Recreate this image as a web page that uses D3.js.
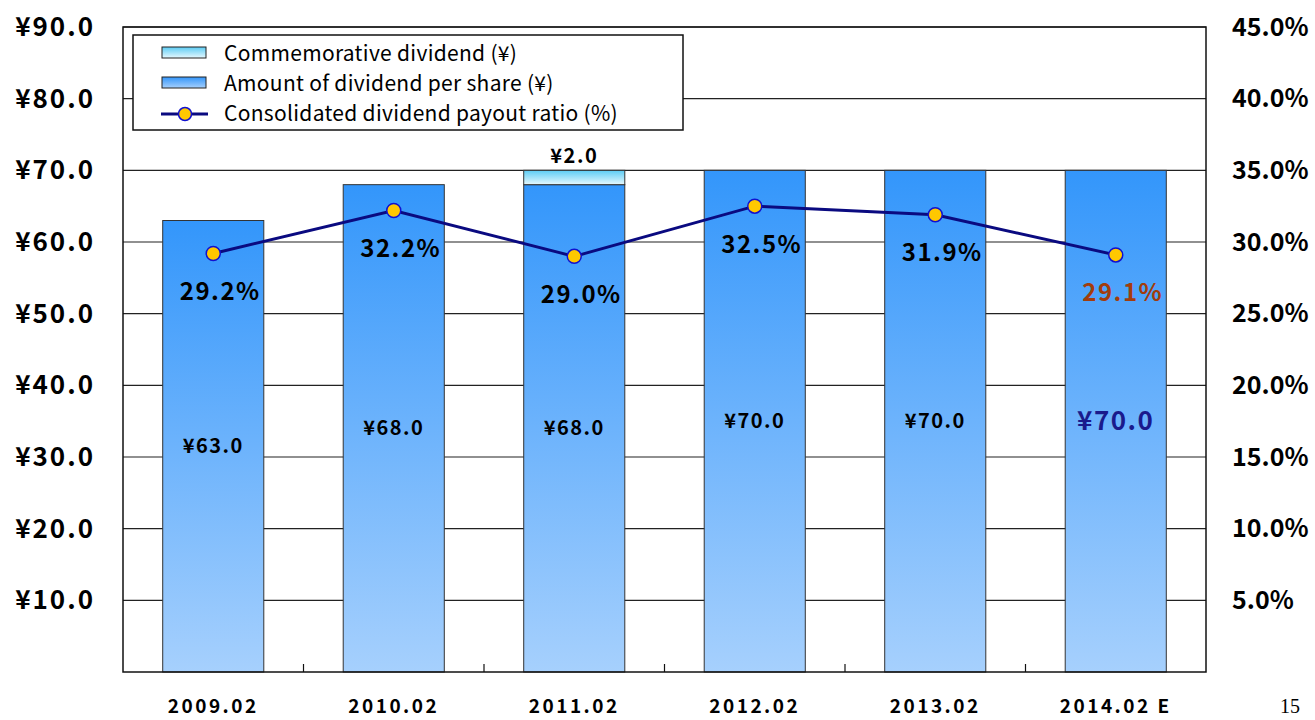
<!DOCTYPE html>
<html>
<head>
<meta charset="utf-8">
<script src="https://cdn.jsdelivr.net/npm/d3@7"></script>
<style>
  body { margin: 0; background: #fff; }
  text { font-family: "Noto Sans CJK JP", "DejaVu Sans", sans-serif; }
</style>
</head>
<body>
<svg id="chart" width="1315" height="720"></svg>
<script>
// datos del gráfico
const categories = ["2009.02", "2010.02", "2011.02", "2012.02", "2013.02", "2014.02 E"];
const dividendPerShare = [63.0, 68.0, 68.0, 70.0, 70.0, 70.0];
const commemorative = [0, 0, 2.0, 0, 0, 0];
const payoutRatio = [29.2, 32.2, 29.0, 32.5, 31.9, 29.1];
const yenTicks = [10, 20, 30, 40, 50, 60, 70, 80, 90];
const pctTicks = [5, 10, 15, 20, 25, 30, 35, 40, 45];
const legendLabels = ["Commemorative dividend (¥)", "Amount of dividend per share (¥)", "Consolidated dividend payout ratio (%)"];

const svg = d3.select("#chart");
const m = { left: 123, right: 1206, top: 27, bottom: 672 };

const x = d3.scaleBand().domain(categories).range([m.left, m.right]).paddingInner(0.44).paddingOuter(0.22);
const y = d3.scaleLinear().domain([0, 90]).range([m.bottom, m.top]);
const y2 = d3.scaleLinear().domain([0, 45]).range([m.bottom, m.top]);

// gradientes
const defs = svg.append("defs");
const g1 = defs.append("linearGradient").attr("id", "gBlue").attr("x1", 0).attr("y1", 0).attr("x2", 0).attr("y2", 1);
g1.append("stop").attr("offset", "0%").attr("stop-color", "#3396fb");
g1.append("stop").attr("offset", "100%").attr("stop-color", "#a6d0fd");
const g2 = defs.append("linearGradient").attr("id", "gCyan").attr("x1", 0).attr("y1", 0).attr("x2", 0).attr("y2", 1);
g2.append("stop").attr("offset", "0%").attr("stop-color", "#5cccf4");
g2.append("stop").attr("offset", "100%").attr("stop-color", "#e6f8fe");

// líneas de cuadrícula
svg.append("g").selectAll("line").data(yenTicks).enter().append("line")
   .attr("x1", m.left).attr("x2", m.right)
   .attr("y1", d => y(d)).attr("y2", d => y(d))
   .attr("stroke", "#222").attr("stroke-width", 1.2);

// barras
svg.append("g").selectAll("rect").data(dividendPerShare).enter().append("rect")
   .attr("x", (d, i) => x(categories[i]))
   .attr("y", d => y(d))
   .attr("width", x.bandwidth())
   .attr("height", d => y(0) - y(d))
   .attr("fill", "url(#gBlue)")
   .attr("stroke", "#333").attr("stroke-width", 1);

svg.append("g").selectAll("rect").data(commemorative).enter()
   .filter(d => d > 0).append("rect")
   .attr("x", d => x(categories[commemorative.indexOf(d)]))
   .attr("y", d => y(dividendPerShare[commemorative.indexOf(d)] + d))
   .attr("width", x.bandwidth())
   .attr("height", d => y(0) - y(d))
   .attr("fill", "url(#gCyan)")
   .attr("stroke", "#333").attr("stroke-width", 1);

// etiquetas de valores
svg.append("g").selectAll("text").data(dividendPerShare).enter().append("text")
   .attr("x", (d, i) => x(categories[i]) + x.bandwidth() / 2)
   .attr("y", d => y(d / 2))
   .attr("dy", "0.35em")
   .attr("text-anchor", "middle")
   .attr("font-weight", "bold")
   .attr("font-size", (d, i) => i === 5 ? "26px" : "20px")
   .attr("letter-spacing", "1.5px")
   .attr("fill", (d, i) => i === 5 ? "#1a1a8c" : "#000")
   .text(d => "¥" + d.toFixed(1));

commemorative.forEach((d, i) => {
  if (d > 0) {
    svg.append("text")
       .attr("x", x(categories[i]) + x.bandwidth() / 2)
       .attr("y", y(dividendPerShare[i] + d) - 7)
       .attr("text-anchor", "middle")
       .attr("font-weight", "bold").attr("font-size", "20px")
       .attr("letter-spacing", "1.5px")
       .text("¥" + d.toFixed(1));
  }
});

// marco del área
svg.append("rect")
   .attr("x", m.left).attr("y", m.top)
   .attr("width", m.right - m.left).attr("height", m.bottom - m.top)
   .attr("fill", "none").attr("stroke", "#111").attr("stroke-width", 1.5);

// marcas del eje x
svg.append("g").selectAll("line").data(categories.slice(1)).enter().append("line")
   .attr("x1", d => x(d) - x.step() * x.paddingInner() / 2)
   .attr("x2", d => x(d) - x.step() * x.paddingInner() / 2)
   .attr("y1", m.bottom).attr("y2", m.bottom - 8)
   .attr("stroke", "#111").attr("stroke-width", 1.2);

// línea del ratio
const line = d3.line()
   .x((d, i) => x(categories[i]) + x.bandwidth() / 2)
   .y(d => y2(d));
svg.append("path").datum(payoutRatio)
   .attr("d", line).attr("fill", "none")
   .attr("stroke", "#0a0a80").attr("stroke-width", 3);

svg.append("g").selectAll("circle").data(payoutRatio).enter().append("circle")
   .attr("cx", (d, i) => x(categories[i]) + x.bandwidth() / 2)
   .attr("cy", d => y2(d))
   .attr("r", 7)
   .attr("fill", "#ffc800").attr("stroke", "#1010d0").attr("stroke-width", 1.5);

svg.append("g").selectAll("text").data(payoutRatio).enter().append("text")
   .attr("x", (d, i) => x(categories[i]) + x.bandwidth() / 2 + 7)
   .attr("y", d => y2(d) + 38)
   .attr("dy", "0.35em")
   .attr("text-anchor", "middle")
   .attr("font-weight", "bold").attr("font-size", "24px")
   .attr("letter-spacing", "1.5px")
   .attr("fill", (d, i) => i === 5 ? "#a33c0c" : "#000")
   .text(d => d.toFixed(1) + "%");

// ejes
svg.append("g").selectAll("text").data(yenTicks).enter().append("text")
   .attr("x", 95).attr("y", d => y(d))
   .attr("dy", "0.35em").attr("text-anchor", "end")
   .attr("font-weight", "bold").attr("font-size", "26px")
   .attr("letter-spacing", "2px")
   .text(d => "¥" + d.toFixed(1));

svg.append("g").selectAll("text").data(pctTicks).enter().append("text")
   .attr("x", 1232).attr("y", d => y2(d))
   .attr("dy", "0.35em").attr("text-anchor", "start")
   .attr("font-weight", "bold").attr("font-size", "25px")
   .text(d => d.toFixed(1) + "%");

svg.append("g").selectAll("text").data(categories).enter().append("text")
   .attr("x", d => x(d) + x.bandwidth() / 2).attr("y", 706)
   .attr("dy", "0.35em").attr("text-anchor", "middle")
   .attr("font-weight", "bold").attr("font-size", "19px")
   .attr("letter-spacing", "2.5px")
   .text(d => d);

// número de página
svg.append("text").attr("x", 1290).attr("y", 706).attr("dy", "0.35em")
   .attr("text-anchor", "middle")
   .style("font-family", "'Liberation Serif', serif").attr("font-size", "20px")
   .text("15");

// leyenda
const lg = svg.append("g");
lg.append("rect").attr("x", 133).attr("y", 35).attr("width", 550).attr("height", 95)
  .attr("fill", "#fff").attr("stroke", "#111").attr("stroke-width", 1.5);
lg.append("rect").attr("x", 162).attr("y", 47).attr("width", 44).attr("height", 11)
  .attr("fill", "url(#gCyan)").attr("stroke", "#222");
lg.append("rect").attr("x", 162).attr("y", 77).attr("width", 44).attr("height", 11)
  .attr("fill", "url(#gBlue)").attr("stroke", "#222");
lg.append("line").attr("x1", 161).attr("x2", 208).attr("y1", 114).attr("y2", 114)
  .attr("stroke", "#0a0a80").attr("stroke-width", 3);
lg.append("circle").attr("cx", 185).attr("cy", 114).attr("r", 6.5)
  .attr("fill", "#ffc800").attr("stroke", "#1010d0").attr("stroke-width", 1.5);
lg.selectAll("text.lab").data(legendLabels).enter().append("text")
  .attr("x", 224).attr("y", (d, i) => 54 + i * 30)
  .attr("dy", "0.35em").attr("font-size", "21px")
  .attr("letter-spacing", "0.3px")
  .text(d => d);
</script>
</body>
</html>
